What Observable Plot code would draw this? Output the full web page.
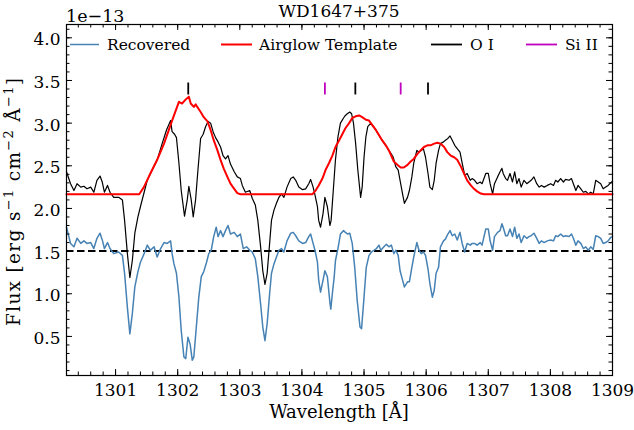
<!DOCTYPE html>
<html><head><meta charset="utf-8">
<script src="https://cdn.jsdelivr.net/npm/d3@7"></script>
<script src="https://cdn.jsdelivr.net/npm/@observablehq/plot@0.6"></script>
<style>
body{margin:0;background:#fff}
#wrap{position:relative;width:634px;height:430px;font-family:"DejaVu Serif",serif}
#over{position:absolute;left:0;top:0;pointer-events:none}
</style></head><body><div id="wrap"></div>
<script>
// Observed spectrum (black), flux in units of 1e-13
const obsWave=[1300.21,1300.275,1300.33,1300.38,1300.44,1300.49,1300.54,1300.60,1300.65,1300.70,1300.75,1300.785,1300.82,1300.87,1300.91,1300.97,1301.05,1301.11,1301.145,1301.19,1301.23,1301.27,1301.31,1301.36,1301.40,1301.46,1301.51,1301.59,1301.67,1301.75,1301.82,1301.886,1301.91,1301.95,1301.98,1302.02,1302.057,1302.11,1302.154,1302.18,1302.218,1302.25,1302.288,1302.326,1302.369,1302.41,1302.45,1302.49,1302.53,1302.57,1302.61,1302.65,1302.69,1302.73,1302.77,1302.81,1302.85,1302.91,1302.96,1303.01,1303.04,1303.09,1303.16,1303.20,1303.25,1303.29,1303.335,1303.37,1303.405,1303.44,1303.48,1303.51,1303.55,1303.59,1303.63,1303.67,1303.71,1303.76,1303.82,1303.86,1303.90,1303.95,1304.01,1304.06,1304.11,1304.14,1304.18,1304.21,1304.25,1304.27,1304.30,1304.34,1304.37,1304.41,1304.45,1304.47,1304.505,1304.54,1304.58,1304.62,1304.67,1304.70,1304.73,1304.77,1304.80,1304.83,1304.865,1304.90,1304.945,1304.97,1305.00,1305.03,1305.06,1305.11,1305.15,1305.19,1305.24,1305.29,1305.35,1305.40,1305.43,1305.47,1305.51,1305.55,1305.58,1305.62,1305.65,1305.70,1305.73,1305.77,1305.80,1305.85,1305.885,1305.92,1305.955,1305.99,1306.03,1306.06,1306.10,1306.13,1306.16,1306.20,1306.23,1306.28,1306.31,1306.35,1306.385,1306.42,1306.46,1306.50,1306.545,1306.58,1306.62,1306.66,1306.71,1306.74,1306.78,1306.82,1306.87,1306.90,1306.96,1307.00,1307.03,1307.07,1307.10,1307.15,1307.19,1307.22,1307.24,1307.28,1307.31,1307.35,1307.39,1307.425,1307.46,1307.495,1307.53,1307.575,1307.62,1307.655,1307.69,1307.735,1307.78,1307.82,1307.855,1307.90,1307.95,1308.005,1308.05,1308.085,1308.12,1308.165,1308.21,1308.245,1308.30,1308.34,1308.37,1308.41,1308.445,1308.49,1308.53,1308.57,1308.61,1308.65,1308.69,1308.73,1308.77,1308.81,1308.85,1308.89,1308.93,1308.97,1309.00];
const obsFlux=[2.43,2.29,2.21,2.29,2.25,2.26,2.23,2.25,2.19,2.33,2.38,2.31,2.19,2.27,2.19,2.13,2.13,2.10,1.86,1.47,1.19,1.39,1.71,1.90,2.02,2.19,2.33,2.45,2.57,2.76,2.92,3.03,2.90,2.87,2.83,2.53,2.21,1.91,2.10,2.26,2.10,1.90,2.10,2.45,2.82,2.87,2.96,3.02,3.00,2.90,2.83,2.78,2.72,2.62,2.58,2.62,2.52,2.43,2.37,2.35,2.27,2.19,2.21,2.12,2.04,1.86,1.55,1.27,1.11,1.24,1.59,1.86,1.98,2.06,2.13,2.17,2.13,2.25,2.35,2.37,2.33,2.25,2.22,2.23,2.29,2.34,2.25,2.16,2.02,1.86,1.78,1.94,2.13,2.02,1.80,1.86,2.21,2.57,2.84,3.00,3.06,3.09,3.11,3.13,3.11,3.00,2.76,2.45,2.13,2.25,2.60,2.84,2.96,3.00,2.96,2.92,2.86,2.80,2.74,2.68,2.65,2.60,2.49,2.45,2.33,2.17,2.06,2.13,2.21,2.37,2.53,2.68,2.66,2.68,2.70,2.60,2.41,2.25,2.22,2.33,2.53,2.68,2.76,2.78,2.80,2.82,2.85,2.80,2.74,2.70,2.66,2.53,2.39,2.41,2.33,2.35,2.33,2.29,2.31,2.29,2.41,2.41,2.29,2.17,2.29,2.37,2.43,2.47,2.41,2.35,2.33,2.41,2.31,2.43,2.29,2.35,2.25,2.33,2.29,2.31,2.33,2.37,2.29,2.25,2.27,2.25,2.27,2.29,2.27,2.33,2.31,2.35,2.31,2.34,2.33,2.35,2.29,2.21,2.27,2.23,2.19,2.20,2.17,2.19,2.17,2.33,2.31,2.29,2.23,2.25,2.27,2.30,2.32];

// Airglow template (red)
const tmplWave=[1300.21,1301.38,1301.456,1301.56,1301.67,1301.78,1301.886,1301.93,1301.97,1302.02,1302.07,1302.12,1302.15,1302.18,1302.21,1302.26,1302.29,1302.315,1302.37,1302.42,1302.48,1302.53,1302.58,1302.64,1302.69,1302.74,1302.80,1302.85,1302.91,1302.96,1303.01,1304.17,1304.22,1304.27,1304.33,1304.38,1304.435,1304.49,1304.54,1304.60,1304.65,1304.70,1304.76,1304.81,1304.865,1304.92,1304.97,1305.03,1305.08,1305.13,1305.19,1305.24,1305.29,1305.35,1305.40,1305.43,1305.48,1305.54,1305.59,1305.64,1305.70,1305.75,1305.80,1305.86,1305.91,1305.965,1306.02,1306.07,1306.13,1306.18,1306.23,1306.29,1306.34,1306.395,1306.45,1306.50,1306.56,1306.61,1306.66,1306.72,1306.77,1306.82,1306.88,1306.93,1309.00];
const tmplFlux=[2.167,2.167,2.25,2.41,2.57,2.76,2.98,3.07,3.15,3.25,3.23,3.27,3.29,3.31,3.23,3.19,3.22,3.19,3.13,3.07,3.02,2.92,2.80,2.68,2.57,2.47,2.37,2.29,2.23,2.18,2.167,2.167,2.21,2.27,2.35,2.45,2.53,2.62,2.72,2.80,2.87,2.94,3.00,3.06,3.08,3.09,3.07,3.04,3.03,2.98,2.92,2.86,2.80,2.74,2.68,2.63,2.55,2.51,2.48,2.48,2.51,2.55,2.58,2.64,2.68,2.72,2.74,2.74,2.76,2.77,2.76,2.72,2.66,2.62,2.60,2.57,2.49,2.41,2.33,2.27,2.23,2.20,2.175,2.167,2.167];

// Recovered spectrum (blue)
const recWave=[1300.21,1300.275,1300.33,1300.38,1300.44,1300.49,1300.54,1300.60,1300.65,1300.70,1300.75,1300.79,1300.82,1300.87,1300.91,1300.97,1301.05,1301.11,1301.145,1301.19,1301.23,1301.27,1301.31,1301.36,1301.40,1301.46,1301.51,1301.56,1301.62,1301.67,1301.725,1301.78,1301.83,1301.886,1301.91,1301.94,1301.98,1302.02,1302.057,1302.10,1302.13,1302.165,1302.20,1302.235,1302.26,1302.30,1302.34,1302.38,1302.42,1302.465,1302.50,1302.54,1302.58,1302.62,1302.65,1302.69,1302.73,1302.77,1302.81,1302.85,1302.91,1302.96,1303.01,1303.056,1303.11,1303.16,1303.20,1303.25,1303.29,1303.335,1303.37,1303.405,1303.44,1303.48,1303.51,1303.55,1303.59,1303.63,1303.67,1303.71,1303.76,1303.82,1303.86,1303.90,1303.95,1304.01,1304.06,1304.11,1304.14,1304.18,1304.21,1304.25,1304.27,1304.30,1304.34,1304.37,1304.41,1304.45,1304.465,1304.49,1304.52,1304.54,1304.58,1304.62,1304.67,1304.70,1304.74,1304.77,1304.81,1304.85,1304.89,1304.935,1304.96,1305.00,1305.036,1305.08,1305.12,1305.16,1305.20,1305.24,1305.27,1305.32,1305.36,1305.40,1305.44,1305.48,1305.51,1305.55,1305.58,1305.62,1305.65,1305.70,1305.73,1305.77,1305.80,1305.85,1305.885,1305.92,1305.955,1305.99,1306.03,1306.06,1306.10,1306.13,1306.16,1306.20,1306.23,1306.28,1306.31,1306.35,1306.385,1306.42,1306.46,1306.50,1306.545,1306.58,1306.62,1306.66,1306.71,1306.74,1306.78,1306.82,1306.87,1306.90,1306.96,1307.00,1307.03,1307.07,1307.10,1307.15,1307.19,1307.22,1307.24,1307.28,1307.31,1307.35,1307.39,1307.425,1307.46,1307.495,1307.53,1307.575,1307.62,1307.655,1307.69,1307.735,1307.78,1307.82,1307.855,1307.90,1307.95,1308.005,1308.05,1308.085,1308.12,1308.165,1308.21,1308.245,1308.30,1308.34,1308.37,1308.41,1308.445,1308.49,1308.53,1308.57,1308.61,1308.65,1308.69,1308.73,1308.77,1308.81,1308.85,1308.89,1308.93,1308.97,1309.00];
const recFlux=[1.78,1.59,1.55,1.65,1.59,1.62,1.59,1.60,1.53,1.65,1.71,1.62,1.53,1.60,1.53,1.47,1.49,1.45,1.24,0.84,0.53,0.77,1.08,1.26,1.37,1.47,1.57,1.51,1.55,1.43,1.53,1.60,1.59,1.62,1.47,1.35,1.24,0.96,0.57,0.26,0.24,0.49,0.41,0.22,0.26,0.61,0.96,1.20,1.26,1.37,1.47,1.51,1.67,1.78,1.67,1.74,1.67,1.74,1.80,1.70,1.72,1.67,1.70,1.53,1.55,1.51,1.49,1.41,1.20,0.88,0.61,0.45,0.65,1.00,1.24,1.35,1.43,1.51,1.53,1.49,1.62,1.71,1.72,1.68,1.62,1.59,1.60,1.67,1.70,1.59,1.51,1.37,1.16,1.02,1.16,1.27,1.20,0.90,0.82,1.00,1.20,1.39,1.53,1.70,1.74,1.72,1.70,1.71,1.59,1.31,0.92,0.61,0.59,0.96,1.31,1.45,1.49,1.51,1.53,1.57,1.51,1.55,1.58,1.55,1.57,1.47,1.51,1.45,1.27,1.16,1.08,1.14,1.14,1.31,1.43,1.60,1.51,1.47,1.49,1.45,1.29,1.12,0.96,1.04,1.24,1.31,1.55,1.62,1.64,1.70,1.74,1.68,1.70,1.63,1.72,1.59,1.49,1.59,1.57,1.59,1.59,1.57,1.60,1.57,1.76,1.76,1.62,1.51,1.67,1.72,1.74,1.82,1.78,1.68,1.68,1.76,1.67,1.78,1.65,1.70,1.60,1.68,1.65,1.67,1.68,1.71,1.65,1.59,1.62,1.60,1.62,1.63,1.62,1.68,1.67,1.70,1.67,1.68,1.67,1.70,1.65,1.57,1.62,1.59,1.53,1.55,1.51,1.55,1.52,1.68,1.67,1.65,1.59,1.60,1.62,1.66,1.67];

// Line identifications
const oiWave=[1302.17,1304.86,1306.03];
const siWave=[1304.37,1305.59];
const markLow=3.33, markHigh=3.47;
const baseline=1.5;

// Ticks
const xMajor=[1301,1302,1303,1304,1305,1306,1307,1308,1309];
const xMinor=d3.range(1300.4,1309.01,0.2).map(v=>+v.toFixed(1));
const yMajor=[0.5,1.0,1.5,2.0,2.5,3.0,3.5,4.0];
const yMinor=d3.range(0.1,4.15,0.1).map(v=>+v.toFixed(1));

const W=634,H=430,mL=66,mR=22,mT=24,mB=55;
const iw=W-mL-mR, ih=H-mT-mB;
const table=(ws,fs)=>ws.map((w,i)=>({w,f:fs[i]}));
const majL=6, minL=3.5;

const chart=Plot.plot({
  width:W,height:H,marginLeft:mL,marginRight:mR,marginTop:mT,marginBottom:mB,
  style:{fontFamily:'"DejaVu Serif", serif',fontSize:"17px",background:"white",color:"black",overflow:"visible"},
  x:{domain:[1300.21,1309]},
  y:{domain:[0.042,4.156]},
  marks:[
    Plot.ruleY([baseline],{y:d=>d,stroke:"black",strokeWidth:2,strokeDasharray:"7.5,3.5"}),
    Plot.line(table(obsWave,obsFlux),{x:"w",y:"f",stroke:"black",strokeWidth:1.2}),
    Plot.line(table(tmplWave,tmplFlux),{x:"w",y:"f",stroke:"red",strokeWidth:2}),
    Plot.line(table(recWave,recFlux),{x:"w",y:"f",stroke:"steelblue",strokeWidth:1.5}),
    Plot.ruleX(oiWave,{x:d=>d,y1:markLow,y2:markHigh,stroke:"black",strokeWidth:1.8}),
    Plot.ruleX(siWave,{x:d=>d,y1:markLow,y2:markHigh,stroke:"#bf00bf",strokeWidth:1.8}),
    // inward ticks on all four sides
    Plot.ruleX(xMinor,{x:d=>d,insetTop:ih-minL,stroke:"black"}),
    Plot.ruleX(xMinor,{x:d=>d,insetBottom:ih-minL,stroke:"black"}),
    Plot.ruleX(xMajor,{x:d=>d,insetTop:ih-majL,stroke:"black"}),
    Plot.ruleX(xMajor,{x:d=>d,insetBottom:ih-majL,stroke:"black"}),
    Plot.ruleY(yMinor,{y:d=>d,insetRight:iw-minL,stroke:"black"}),
    Plot.ruleY(yMinor,{y:d=>d,insetLeft:iw-minL,stroke:"black"}),
    Plot.ruleY(yMajor,{y:d=>d,insetRight:iw-majL,stroke:"black"}),
    Plot.ruleY(yMajor,{y:d=>d,insetLeft:iw-majL,stroke:"black"}),
    Plot.axisX(xMajor,{tickSize:0,tickPadding:8,tickFormat:d=>String(d),label:null,fontSize:17}),
    Plot.axisY(yMajor,{tickSize:0,tickPadding:6,tickFormat:d3.format(".1f"),label:null,dy:2,fontSize:17}),
    Plot.frame({stroke:"black",strokeWidth:1.2})
  ]
});
const wrap=document.getElementById("wrap");
wrap.appendChild(chart);

// Title, offset text, axis labels and legend overlay
const F='font-family="DejaVu Serif, serif"';
const sup=(t)=>`<tspan dy="-7.5" font-size="13">${t}</tspan><tspan dy="7.5">`;
const over=`<svg id="over" width="${W}" height="${H}" xmlns="http://www.w3.org/2000/svg" ${F}>
<text x="339" y="17" text-anchor="middle" font-size="17">WD1647+375</text>
<text x="66" y="21.5" font-size="17.5">1e−13</text>
<text x="339" y="418" text-anchor="middle" font-size="18">Wavelength [Å]</text>
<text transform="translate(20,202) rotate(-90)" text-anchor="middle" font-size="18.5" textLength="248" lengthAdjust="spacing">Flux [erg s${sup("−1")} cm${sup("−2")} Å${sup("−1")}]</tspan></tspan></tspan></text>
<g font-size="15.5">
<line x1="70" x2="99" y1="44.5" y2="44.5" stroke="steelblue" stroke-width="1.5"/>
<text x="107" y="50">Recovered</text>
<line x1="221" x2="252" y1="44.5" y2="44.5" stroke="red" stroke-width="2"/>
<text x="259" y="50">Airglow Template</text>
<line x1="431" x2="462" y1="44.5" y2="44.5" stroke="black" stroke-width="1.8"/>
<text x="470" y="50">O I</text>
<line x1="526" x2="557" y1="44.5" y2="44.5" stroke="#bf00bf" stroke-width="1.8"/>
<text x="565" y="50">Si II</text>
</g>
</svg>`;
wrap.insertAdjacentHTML("beforeend",over);
</script></body></html>
